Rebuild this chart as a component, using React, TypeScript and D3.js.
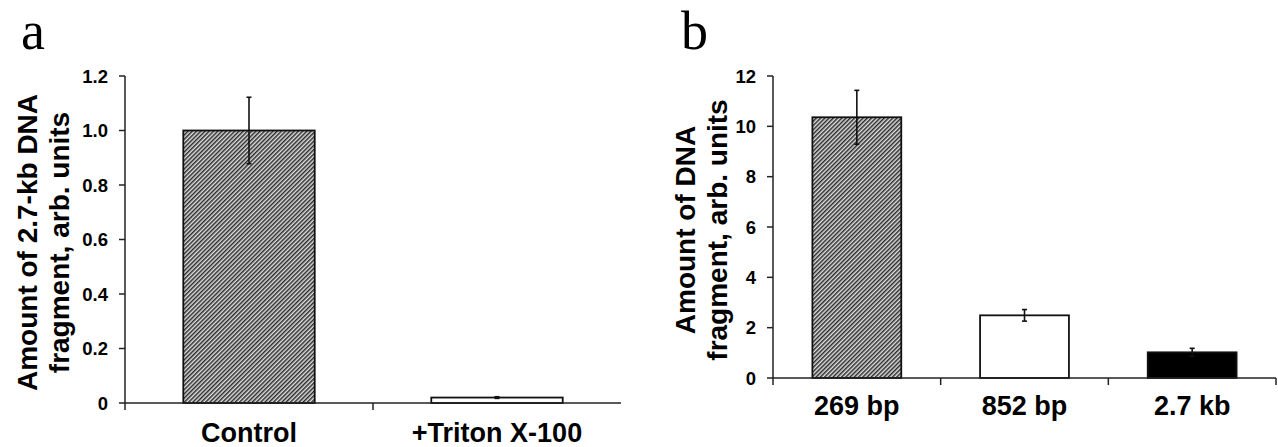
import React from 'react';
import * as d3 from 'd3';

// panel a
const aCategories = ['Control', '+Triton X-100'];
const aValues = [1.0, 0.02];
const aErrors = [0.122, 0.003];
const aTicks = [0, 0.2, 0.4, 0.6, 0.8, 1.0, 1.2];
const aFills = ['hatch', 'white'];

// panel b
const bCategories = ['269 bp', '852 bp', '2.7 kb'];
const bValues = [10.36, 2.49, 1.02];
const bErrors = [1.07, 0.23, 0.16];
const bTicks = [0, 2, 4, 6, 8, 10, 12];
const bFills = ['hatch', 'white', 'black'];

const SANS = '"Liberation Sans", Arial, sans-serif';

function BarPanel({ letter, letterX, letterY, x0, x1, y0, y1, yMax, ticks, tickFmt, categories, values, errors, fills, titleLines, titleX, titleGap, endTick, labelY }) {
  const x = d3.scaleBand().domain(categories).range([x0, x1]).paddingInner(0.47).paddingOuter(0.235);
  const band = (x1 - x0) / categories.length;
  const y = d3.scaleLinear().domain([0, yMax]).range([y0, y1]);
  const midY = (y0 + y1) / 2 + 3;
  const bounds = d3.range(categories.length + (endTick ? 1 : 0)).map(i => x0 + i * band);
  return (
    <g>
      <text x={letterX} y={letterY} fontFamily='"Liberation Serif", "Times New Roman", serif' fontSize={54}>{letter}</text>
      {/* bars */}
      {categories.map((c, i) => (
        <g key={c}>
          <rect x={x(c)} y={y(values[i])} width={x.bandwidth()} height={y0 - y(values[i])}
            fill={fills[i] === 'hatch' ? 'url(#hatch)' : fills[i]} stroke="#111" strokeWidth={1.8} />
          <line x1={x(c) + x.bandwidth() / 2} x2={x(c) + x.bandwidth() / 2} y1={y(values[i] + errors[i])} y2={y(values[i] - errors[i])} stroke="#111" strokeWidth={1.6} />
          <line x1={x(c) + x.bandwidth() / 2 - 2.5} x2={x(c) + x.bandwidth() / 2 + 2.5} y1={y(values[i] + errors[i])} y2={y(values[i] + errors[i])} stroke="#111" strokeWidth={1.6} />
          <line x1={x(c) + x.bandwidth() / 2 - 2.5} x2={x(c) + x.bandwidth() / 2 + 2.5} y1={y(values[i] - errors[i])} y2={y(values[i] - errors[i])} stroke="#111" strokeWidth={1.6} />
          <text x={x(c) + x.bandwidth() / 2} y={labelY} textAnchor="middle" fontFamily={SANS} fontWeight="bold" fontSize={27}>{c}</text>
        </g>
      ))}
      {/* y axis */}
      <line x1={x0} x2={x0} y1={y1} y2={y0 + 7} stroke="#222" strokeWidth={1.5} />
      {ticks.map(t => (
        <g key={t}>
          <line x1={x0 - 6} x2={x0} y1={y(t)} y2={y(t)} stroke="#222" strokeWidth={1.5} />
          <text x={x0 - 17} y={y(t)} dy="0.36em" textAnchor="end" fontFamily={SANS} fontWeight="bold" fontSize={18.5}>{tickFmt(t)}</text>
        </g>
      ))}
      {/* x axis */}
      <line x1={x0} x2={x1} y1={y0} y2={y0} stroke="#222" strokeWidth={1.5} />
      {bounds.slice(1).map(b => (
        <line key={b} x1={b} x2={b} y1={y0} y2={y0 + 7} stroke="#222" strokeWidth={1.5} />
      ))}
      {/* y title */}
      {titleLines.map((t, i) => (
        <text key={t} transform={`translate(${titleX + i * titleGap},${midY}) rotate(-90)`} textAnchor="middle"
          fontFamily={SANS} fontWeight="bold" fontSize={28}>{t}</text>
      ))}
    </g>
  );
}

export default function App() {
  return (
    <svg width={1278} height={447} style={{ position: 'absolute', left: 0, top: 0, background: '#fff' }}>
      <defs>
        <pattern id="hatch" patternUnits="userSpaceOnUse" width={3} height={3} patternTransform="rotate(45)">
          <rect width={3} height={3} fill="#e0e0e0" />
          <line x1={0.75} x2={0.75} y1={0} y2={3} stroke="#2a2a2a" strokeWidth={1.5} />
        </pattern>
      </defs>
      <BarPanel letter="a" letterX={21} letterY={49} x0={125} x1={621} y0={403} y1={76} yMax={1.2}
        ticks={aTicks} tickFmt={t => (t === 0 ? '0' : d3.format('.1f')(t))}
        categories={aCategories} values={aValues} errors={aErrors} fills={aFills}
        titleLines={['Amount of 2.7-kb DNA', 'fragment, arb. units']} titleX={37} titleGap={32}
        endTick={false} labelY={442} />
      <BarPanel letter="b" letterX={681} letterY={49} x0={773} x1={1276} y0={378} y1={76} yMax={12}
        ticks={bTicks} tickFmt={t => String(t)}
        categories={bCategories} values={bValues} errors={bErrors} fills={bFills}
        titleLines={['Amount of DNA', 'fragment, arb. units']} titleX={695} titleGap={32}
        endTick={true} labelY={415} />
    </svg>
  );
}
